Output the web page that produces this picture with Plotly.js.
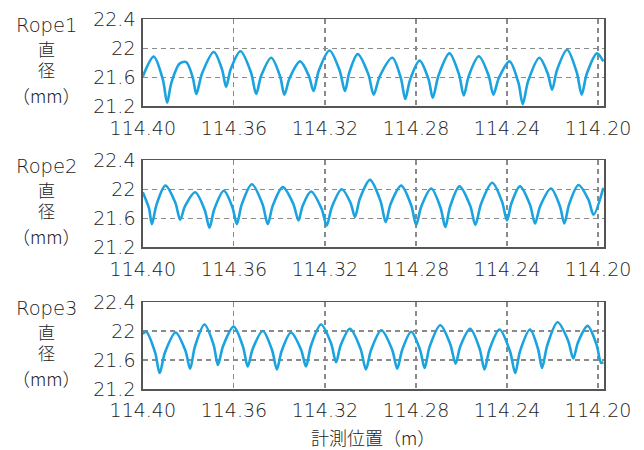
<!DOCTYPE html>
<html>
<head>
<meta charset="utf-8">
<script src="https://cdn.plot.ly/plotly-3.0.1.min.js"></script>
<style>html,body{margin:0;padding:0;background:#fff;}#chart{width:644px;height:450px;}</style>
</head>
<body>
<div id="chart"></div>
<script>
// ---- data ----
const ropeNames = ['Rope1', 'Rope2', 'Rope3'];
const yLabelLines = ['直', '径', '（mm）'];
const xAxisTitle = '計測位置（m）';
const xTickVals = [114.40, 114.36, 114.32, 114.28, 114.24, 114.20];
const xTickText = ['114.40', '114.36', '114.32', '114.28', '114.24', '114.20'];
const yTickVals = [21.2, 21.6, 22.0, 22.4];
const yTickText = ['21.2', '21.6', '22', '22.4'];

const rope1X = [114.4000,114.3952,114.3912,114.3893,114.3875,114.3838,114.3809,114.3780,114.3765,114.3739,
  114.3688,114.3652,114.3634,114.3613,114.3571,114.3525,114.3502,114.3480,114.3436,114.3397,
  114.3378,114.3355,114.3309,114.3270,114.3250,114.3227,114.3180,114.3135,114.3112,114.3093,
  114.3056,114.3009,114.2986,114.2959,114.2904,114.2866,114.2847,114.2826,114.2784,114.2745,
  114.2726,114.2701,114.2653,114.2611,114.2590,114.2568,114.2524,114.2481,114.2460,114.2436,
  114.2389,114.2350,114.2331,114.2307,114.2258,114.2221,114.2202,114.2180,114.2136,114.2094,
  114.2072,114.2050,114.2005,114.1977];
const rope1Y = [21.61,21.885,21.57,21.25,21.52,21.79,21.81,21.59,21.37,21.66,
  21.95,21.71,21.47,21.72,21.96,21.67,21.37,21.62,21.87,21.615,
  21.36,21.59,21.82,21.615,21.41,21.69,21.97,21.69,21.41,21.665,
  21.92,21.64,21.36,21.615,21.87,21.585,21.30,21.565,21.83,21.575,
  21.32,21.625,21.93,21.64,21.35,21.62,21.89,21.625,21.36,21.59,
  21.82,21.525,21.23,21.55,21.87,21.65,21.43,21.705,21.98,21.67,
  21.36,21.645,21.93,21.82];

const rope2X = [114.4000,114.3973,114.3960,114.3940,114.3901,114.3857,114.3836,114.3814,114.3770,114.3728,
  114.3707,114.3686,114.3644,114.3606,114.3587,114.3565,114.3521,114.3474,114.3451,114.3429,
  114.3385,114.3339,114.3316,114.3298,114.3261,114.3215,114.3192,114.3170,114.3126,114.3087,
  114.3068,114.3046,114.3002,114.2956,114.2933,114.2911,114.2865,114.2821,114.2799,114.2777,
  114.2733,114.2692,114.2671,114.2650,114.2609,114.2562,114.2539,114.2514,114.2465,114.2422,
  114.2400,114.2381,114.2343,114.2299,114.2277,114.2254,114.2207,114.2168,114.2148,114.2127,
  114.2086,114.2042,114.2020,114.1977];
const rope2Y = [21.96,21.74,21.52,21.785,22.05,21.815,21.58,21.77,21.96,21.715,
  21.47,21.725,21.98,21.75,21.52,21.795,22.07,21.795,21.52,21.775,
  22.03,21.80,21.57,21.77,21.97,21.735,21.50,21.75,22.00,21.81,
  21.62,21.875,22.13,21.84,21.55,21.80,22.05,21.78,21.51,21.76,
  22.01,21.745,21.48,21.76,22.04,21.775,21.51,21.80,22.09,21.83,
  21.57,21.805,22.04,21.785,21.53,21.77,22.01,21.77,21.53,21.795,
  22.06,21.855,21.65,22.02];

const rope3X = [114.4000,114.3985,114.3946,114.3926,114.3903,114.3856,114.3813,114.3792,114.3771,114.3729,
  114.3689,114.3670,114.3647,114.3601,114.3560,114.3539,114.3517,114.3473,114.3432,114.3411,
  114.3390,114.3349,114.3305,114.3283,114.3261,114.3217,114.3173,114.3151,114.3131,114.3090,
  114.3043,114.3020,114.2997,114.2952,114.2905,114.2882,114.2861,114.2821,114.2782,114.2762,
  114.2740,114.2693,114.2649,114.2626,114.2605,114.2562,114.2520,114.2499,114.2477,114.2433,
  114.2387,114.2364,114.2343,114.2299,114.2264,114.2246,114.2223,114.2178,114.2132,114.2109,
  114.2088,114.2046,114.2007,114.1987,114.1977];
const rope3Y = [21.96,21.99,21.705,21.42,21.70,21.98,21.73,21.48,21.785,22.09,
  21.81,21.53,21.795,22.06,21.785,21.51,21.755,22.00,21.735,21.47,
  21.725,21.98,21.745,21.51,21.80,22.09,21.83,21.57,21.80,22.03,
  21.75,21.47,21.74,22.01,21.745,21.48,21.735,21.99,21.74,21.49,
  21.785,22.08,21.815,21.55,21.79,22.03,21.75,21.47,21.745,22.02,
  21.72,21.42,21.72,22.02,21.755,21.49,21.805,22.12,21.87,21.62,
  21.845,22.07,21.815,21.56,21.57];

const seriesX = [rope1X, rope2X, rope3X];
const seriesY = [rope1Y, rope2Y, rope3Y];

// ---- layout helpers ----
const W = 644, H = 450;
const px = v => v / W;
const py = v => 1 - v / H;
const plotLeft = 142.8, plotRight = 604;
const panelTop = [19.3, 160.3, 302];
const panelBottom = [106.3, 247.3, 389];
const textColor = '#222';
const numFont = 'DejaVu Sans, Liberation Sans, sans-serif';
const jpFont = 'Noto Sans CJK JP, sans-serif';
const lineBlue = '#1aa3de';

const traces = [];
const layout = {
  width: W, height: H,
  margin: {l: 0, r: 0, t: 0, b: 0},
  paper_bgcolor: '#fff', plot_bgcolor: '#fff',
  showlegend: false,
  annotations: []
};

for (let i = 0; i < 3; i++) {
  const s = i === 0 ? '' : String(i + 1);
  traces.push({
    x: seriesX[i], y: seriesY[i],
    xaxis: 'x' + s, yaxis: 'y' + s,
    type: 'scatter', mode: 'lines',
    line: {color: lineBlue, width: 2.6, shape: 'spline', smoothing: 0.85},
    hoverinfo: 'skip'
  });
  layout['xaxis' + s] = {
    domain: [px(plotLeft), px(plotRight)],
    anchor: 'y' + s,
    range: [114.40, 114.1974],
    tickmode: 'array', tickvals: xTickVals, ticktext: xTickText,
    ticks: '', showgrid: true, gridcolor: '#8a8a8a', gridwidth: 1.2, griddash: '5px,4px',
    showline: true, mirror: true, linecolor: '#555', linewidth: 1.5,
    zeroline: false,
    tickfont: {family: numFont, size: 19, color: textColor, weight: 200},
    ticklabelstandoff: 4
  };
  layout['yaxis' + s] = {
    domain: [py(panelBottom[i]), py(panelTop[i])],
    anchor: 'x' + s,
    range: [21.2, 22.4],
    tickmode: 'array', tickvals: yTickVals, ticktext: yTickText,
    ticks: '', showgrid: true, gridcolor: '#8a8a8a', gridwidth: 1.2, griddash: '5px,4px',
    showline: true, mirror: true, linecolor: '#555', linewidth: 1.5,
    zeroline: false,
    tickfont: {family: numFont, size: 19, color: textColor, weight: 200},
    ticklabelstandoff: 2
  };
  const top = panelTop[i];
  const labels = [
    {t: ropeNames[i], dy: 6, f: numFont, sz: 19.5},
    {t: yLabelLines[0], dy: 29, f: jpFont, sz: 17},
    {t: yLabelLines[1], dy: 50, f: jpFont, sz: 17},
    {t: yLabelLines[2], dy: 76, f: jpFont, sz: 18}
  ];
  labels.forEach(l => {
    layout.annotations.push({
      xref: 'paper', yref: 'paper', x: px(46), y: py(top + l.dy),
      xanchor: 'center', yanchor: 'middle', showarrow: false,
      text: l.t, font: {family: l.f, size: l.sz, color: textColor, weight: 200}
    });
  });
}
layout.annotations.push({
  xref: 'paper', yref: 'paper', x: px(373), y: py(437),
  xanchor: 'center', yanchor: 'middle', showarrow: false,
  text: xAxisTitle, font: {family: jpFont, size: 18, color: textColor, weight: 200}
});

Plotly.newPlot('chart', traces, layout, {staticPlot: true, displayModeBar: false});
</script>
</body>
</html>
